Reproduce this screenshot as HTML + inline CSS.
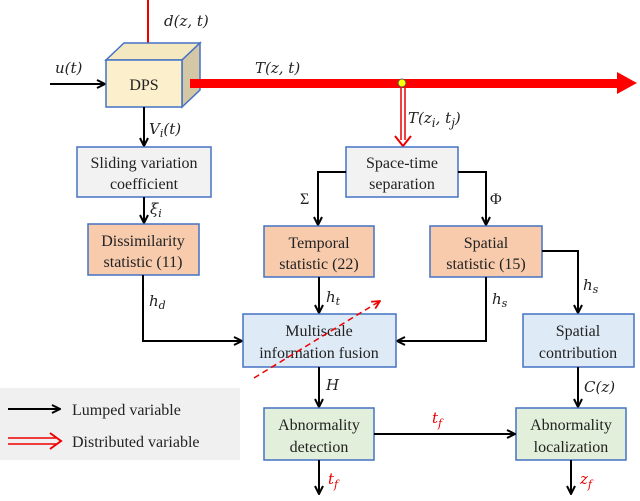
<!DOCTYPE html>
<html><head><meta charset="utf-8"><style>
body{margin:0;background:#fff}
svg text{font-family:"Liberation Serif",serif;font-size:16px;fill:#222}
.m{font-style:italic;font-family:"DejaVu Serif","Liberation Serif",serif;font-size:15px}
</style></head><body>
<svg width="640" height="496" viewBox="0 0 640 496" xmlns="http://www.w3.org/2000/svg">
<defs>
<marker id="a" markerWidth="10" markerHeight="10" refX="9" refY="5" orient="auto" markerUnits="userSpaceOnUse"><path d="M1,1 L9,5 L1,9" fill="none" stroke="#000" stroke-width="2"/></marker>
<marker id="r" markerWidth="10" markerHeight="10" refX="9" refY="5" orient="auto" markerUnits="userSpaceOnUse"><path d="M1,1 L9,5 L1,9" fill="none" stroke="#e00" stroke-width="1.8"/></marker>
</defs>
<!-- legend -->
<rect x="0" y="388" width="240" height="72" fill="#f0f0f0"/>
<line x1="8" y1="409" x2="60" y2="409" stroke="#000" stroke-width="2" marker-end="url(#a)"/>
<text x="72" y="415">Lumped variable</text>
<line x1="8" y1="438" x2="56" y2="438" stroke="#e00" stroke-width="1.5"/>
<line x1="8" y1="444" x2="56" y2="444" stroke="#e00" stroke-width="1.5"/>
<path d="M50,433 L61,441 L50,449" fill="none" stroke="#e00" stroke-width="2"/>
<text x="72" y="447">Distributed variable</text>
<!-- DPS -->
<line x1="148" y1="0" x2="148" y2="52" stroke="#e00" stroke-width="2" marker-end="url(#r)"/>
<text class="m" x="164" y="26" font-size="17">d(z, t)</text>
<line x1="50" y1="84" x2="105" y2="84" stroke="#000" stroke-width="2" marker-end="url(#a)"/>
<text class="m" x="55" y="73" font-size="17">u(t)</text>
<polygon points="106,60 124,43 200,43 182,60" fill="#f3e8c0" stroke="#4472c4" stroke-width="1.5"/>
<polygon points="182,60 200,43 200,90 182,107" fill="#d4c7a6" stroke="#4472c4" stroke-width="1.5"/>
<rect x="106" y="60" width="76" height="47" fill="#fcf0cc" stroke="#4472c4" stroke-width="1.5"/>
<text x="144" y="90" text-anchor="middle">DPS</text>
<rect x="190" y="79" width="428" height="9" fill="#f00"/>
<polygon points="617,72 637,83 617,94" fill="#f00"/>
<text class="m" x="255" y="73" font-size="17">T(z, t)</text>
<line x1="401" y1="88" x2="401" y2="140" stroke="#e00" stroke-width="1.5"/>
<line x1="405" y1="88" x2="405" y2="140" stroke="#e00" stroke-width="1.5"/>
<path d="M395,136 L403,146 L411,136" fill="none" stroke="#e00" stroke-width="2"/>
<circle cx="402" cy="83" r="4" fill="#ff0" stroke="#555"/>
<text class="m" x="408" y="123" font-size="17">T(z<tspan font-size="12" dy="4">i</tspan><tspan dy="-4">, t</tspan><tspan font-size="12" dy="4">j</tspan><tspan dy="-4">)</tspan></text>
<!-- left column -->
<line x1="144" y1="107" x2="144" y2="146" stroke="#000" stroke-width="2" marker-end="url(#a)"/>
<text class="m" x="149" y="134">V<tspan font-size="11" dy="3">i</tspan><tspan dy="-3">(t)</tspan></text>
<rect x="77" y="147" width="134" height="50" fill="#f2f2f2" stroke="#4472c4" stroke-width="1.5"/>
<text x="144" y="168" text-anchor="middle">Sliding variation</text>
<text x="144" y="189" text-anchor="middle">coefficient</text>
<line x1="144" y1="197" x2="144" y2="223" stroke="#000" stroke-width="2" marker-end="url(#a)"/>
<text class="m" x="150" y="214">ξ<tspan font-size="11" dy="3">i</tspan></text>
<rect x="88" y="224" width="111" height="51" fill="#f8cbad" stroke="#4472c4" stroke-width="1.5"/>
<text x="143" y="246" text-anchor="middle">Dissimilarity</text>
<text x="143" y="267" text-anchor="middle">statistic (11)</text>
<polyline points="143,275 143,341 242,341" fill="none" stroke="#000" stroke-width="2" marker-end="url(#a)"/>
<text class="m" x="149" y="306">h<tspan font-size="11" dy="3">d</tspan></text>
<!-- space-time -->
<rect x="346" y="147" width="112" height="50" fill="#f2f2f2" stroke="#4472c4" stroke-width="1.5"/>
<text x="402" y="168" text-anchor="middle">Space-time</text>
<text x="402" y="189" text-anchor="middle">separation</text>
<polyline points="346,172 318,172 318,225" fill="none" stroke="#000" stroke-width="2" marker-end="url(#a)"/>
<text x="300" y="204">Σ</text>
<polyline points="458,172 486,172 486,225" fill="none" stroke="#000" stroke-width="2" marker-end="url(#a)"/>
<text x="490" y="204">Φ</text>
<rect x="264" y="226" width="110" height="51" fill="#f8cbad" stroke="#4472c4" stroke-width="1.5"/>
<text x="319" y="248" text-anchor="middle">Temporal</text>
<text x="319" y="269" text-anchor="middle">statistic (22)</text>
<rect x="430" y="226" width="112" height="51" fill="#f8cbad" stroke="#4472c4" stroke-width="1.5"/>
<text x="486" y="248" text-anchor="middle">Spatial</text>
<text x="486" y="269" text-anchor="middle">statistic (15)</text>
<line x1="319" y1="277" x2="319" y2="313" stroke="#000" stroke-width="2" marker-end="url(#a)"/>
<text class="m" x="326" y="302">h<tspan font-size="11" dy="3">t</tspan></text>
<polyline points="486,277 486,341 397,341" fill="none" stroke="#000" stroke-width="2" marker-end="url(#a)"/>
<text class="m" x="492" y="304">h<tspan font-size="11" dy="3">s</tspan></text>
<polyline points="542,251 578,251 578,313" fill="none" stroke="#000" stroke-width="2" marker-end="url(#a)"/>
<text class="m" x="583" y="290">h<tspan font-size="11" dy="3">s</tspan></text>
<rect x="243" y="314" width="153" height="53" fill="#deebf7" stroke="#4472c4" stroke-width="1.5"/>
<text x="319" y="336" text-anchor="middle">Multiscale</text>
<text x="319" y="358" text-anchor="middle">information fusion</text>
<rect x="523" y="314" width="111" height="53" fill="#deebf7" stroke="#4472c4" stroke-width="1.5"/>
<text x="578" y="336" text-anchor="middle">Spatial</text>
<text x="578" y="358" text-anchor="middle">contribution</text>
<line x1="254" y1="378" x2="380" y2="301" stroke="#e00" stroke-width="1.5" stroke-dasharray="6,4" marker-end="url(#r)"/>
<line x1="319" y1="367" x2="319" y2="407" stroke="#000" stroke-width="2" marker-end="url(#a)"/>
<text class="m" x="326" y="390">H</text>
<line x1="578" y1="367" x2="578" y2="407" stroke="#000" stroke-width="2" marker-end="url(#a)"/>
<text class="m" x="584" y="392" font-size="12">C(z)</text>
<rect x="264" y="408" width="110" height="52" fill="#e2efda" stroke="#4472c4" stroke-width="1.5"/>
<text x="319" y="430" text-anchor="middle">Abnormality</text>
<text x="319" y="452" text-anchor="middle">detection</text>
<rect x="516" y="408" width="110" height="52" fill="#e2efda" stroke="#4472c4" stroke-width="1.5"/>
<text x="571" y="430" text-anchor="middle">Abnormality</text>
<text x="571" y="452" text-anchor="middle">localization</text>
<line x1="374" y1="434" x2="515" y2="434" stroke="#000" stroke-width="2" marker-end="url(#a)"/>
<text class="m" x="432" y="423" style="fill:#e00" font-size="17">t<tspan font-size="11" dy="4">f</tspan></text>
<line x1="319" y1="460" x2="319" y2="494" stroke="#000" stroke-width="2" marker-end="url(#a)"/>
<text class="m" x="328" y="484" style="fill:#e00" font-size="17">t<tspan font-size="11" dy="4">f</tspan></text>
<line x1="571" y1="460" x2="571" y2="494" stroke="#000" stroke-width="2" marker-end="url(#a)"/>
<text class="m" x="580" y="484" style="fill:#e00" font-size="17">z<tspan font-size="11" dy="4">f</tspan></text>
</svg>
</body></html>
